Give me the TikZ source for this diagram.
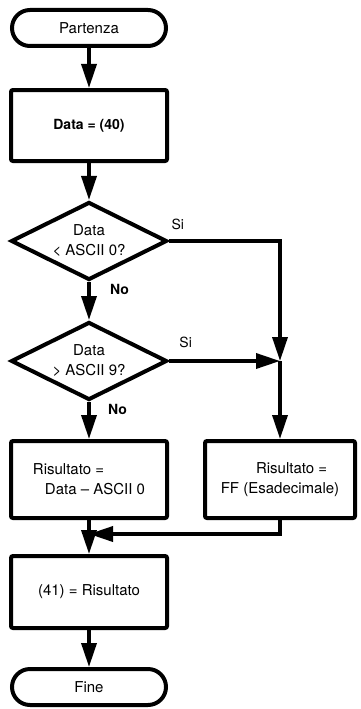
\documentclass[tikz,border=0pt]{standalone}
\usepackage{fontspec}
\setmainfont{TeX Gyre Heros}
\usetikzlibrary{arrows.meta,shapes,positioning}

\begin{document}
\begin{tikzpicture}[x=1pt, y=1pt, node distance=37pt, auto,
    >={Triangle[length=24pt,width=15pt]},
    every node/.style={font=\fontsize{15}{20}\selectfont},
    term/.style={draw, line width=4pt, rounded corners=18pt, minimum width=154pt, minimum height=36pt},
    box/.style={draw, line width=4pt, rounded corners=2pt, minimum width=156pt, align=center},
    test/.style={draw, line width=4pt, diamond, aspect=2, inner sep=0pt, minimum width=156pt, minimum height=78pt, align=center},
    lbl/.style={font=\fontsize{14}{16}\selectfont},
    flow/.style={line width=3.5pt}]
    \useasboundingbox (0,0) rectangle (360,-709);

    \node[term] (start) at (89,-28) {Partenza};
    \node[box, minimum height=71pt, below=40pt of start, font=\bfseries\fontsize{14}{16}\selectfont] (load) {Data = (40)};
    \node[test, below=of load] (low) {Data\\< ASCII 0?};
    \node[test, below=38pt of low] (high) {Data\\> ASCII 9?};
    \node[box, minimum height=77pt, below=of high, align=left] (lbox) {Risultato =\\\hspace*{12pt}Data -- ASCII 0};
    \node[box, minimum height=77pt, minimum width=150pt, right=34pt of lbox, align=right] (rbox) {Risultato =\hspace*{12pt}\\FF (Esadecimale)};
    \node[box, minimum height=72pt, below=34pt of lbox] (store) {(41) = Risultato};
    \node[term, below=of store] (end) {Fine};

    \coordinate (join) at (high.east -| rbox.north);
    \coordinate[below=14pt of lbox] (merge);

    \draw[flow, ->] (start) -- (load);
    \draw[flow, ->] (load) -- (low);
    \draw[flow, ->] (low) -- node[lbl, font=\bfseries\fontsize{14}{16}\selectfont, pos=0.2, right=16pt] {No} (high);
    \draw[flow, ->] (low.east) -| node[lbl, pos=0.04, above=6pt] {Si} (join);
    \draw[flow, ->] (high.east) -- node[lbl, pos=0.15, above=8pt] {Si} (join);
    \draw[flow, ->] (high) -- node[lbl, font=\bfseries\fontsize{14}{16}\selectfont, pos=0.2, right=14pt] {No} (lbox);
    \draw[flow, ->] (join) -- (rbox);
    \draw[flow, ->] (rbox.south) |- (merge);
    \draw[flow, ->] (lbox) -- (store);
    \draw[flow, ->] (store) -- (end);
\end{tikzpicture}
\end{document}
